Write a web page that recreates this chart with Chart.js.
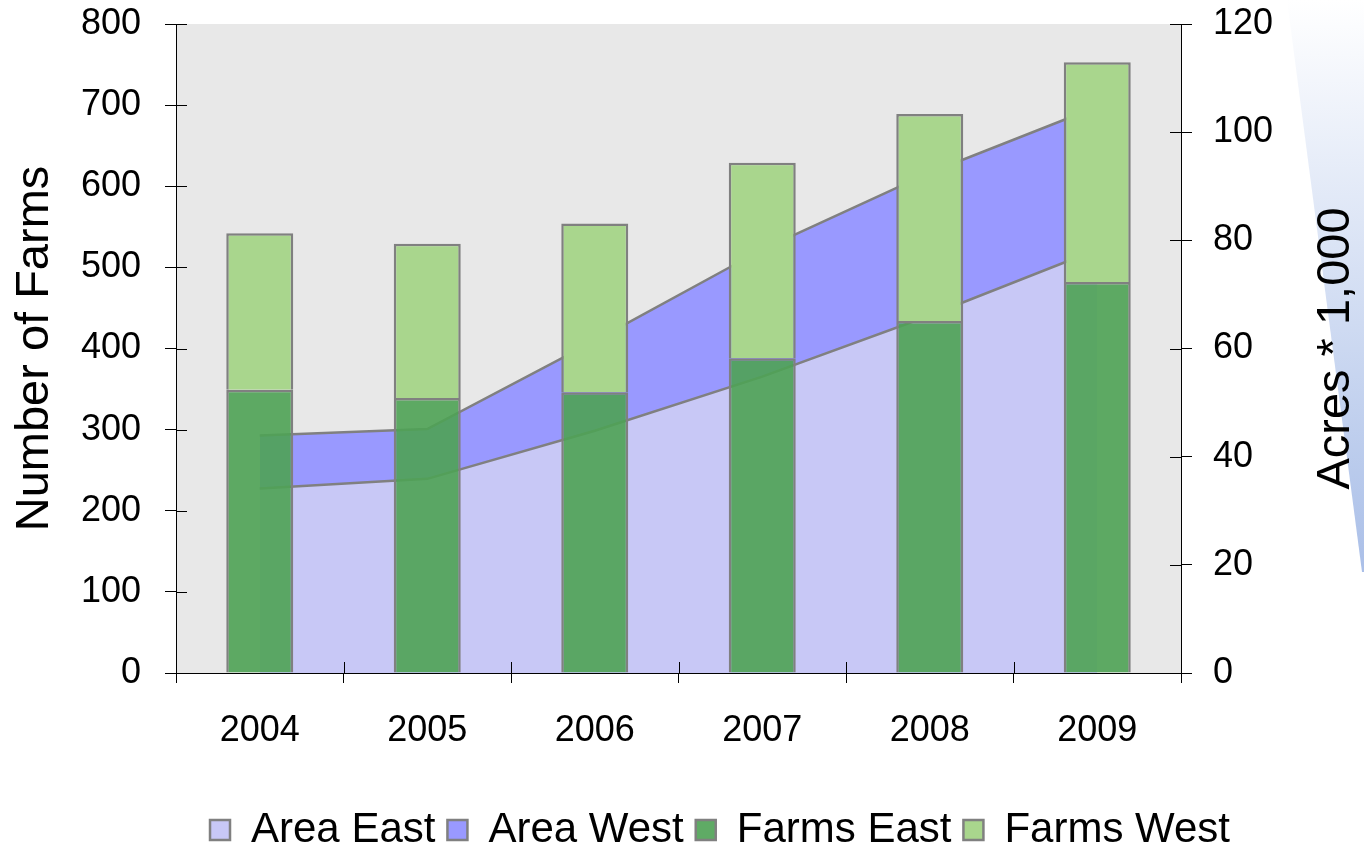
<!DOCTYPE html>
<html>
<head>
<meta charset="utf-8">
<script src="https://cdn.jsdelivr.net/npm/chart.js@4.4.1/dist/chart.umd.min.js"></script>
<style>
  html, body { margin: 0; padding: 0; background: #fff; }
  #wrap { width: 1364px; height: 851px; }
</style>
</head>
<body>
<div id="wrap"><canvas id="myChart" width="1364" height="851"></canvas></div>
<script>
// data
const years = ['2004', '2005', '2006', '2007', '2008', '2009'];
const areaEast = [34.1, 35.9, 44.8, 54.8, 66.1, 78.3];   // acres * 1,000
const areaWest = [9.8, 9.2, 16.6, 23.5, 26.4, 26.4];
const farmsEast = [349, 339, 346, 388, 434, 482];        // number of farms
const farmsWest = [193, 190, 208, 241, 255, 271];
const farmsMax = 800, farmsStep = 100;
const acresMax = 120, acresStep = 20;

const FONT = 'Liberation Sans, Arial, sans-serif';

// slide background, plot fill, inward ticks, axis titles
const decor = {
    id: 'decor',
    beforeDraw(chart) {
        const ctx = chart.ctx;
        const a = chart.chartArea;
        ctx.save();
        ctx.fillStyle = '#fff';
        ctx.fillRect(0, 0, chart.width, chart.height);
        // blue wedge on the right edge
        const g = ctx.createLinearGradient(0, 0, 0, 572);
        g.addColorStop(0, '#ffffff');
        g.addColorStop(1, '#aabfe8');
        ctx.fillStyle = g;
        ctx.beginPath();
        ctx.moveTo(1287, 0);
        ctx.lineTo(1364, 0);
        ctx.lineTo(1364, 572);
        ctx.lineTo(1362, 572);
        ctx.closePath();
        ctx.fill();
        // plot background
        ctx.fillStyle = '#e8e8e8';
        ctx.fillRect(a.left, a.top, a.right - a.left, a.bottom - a.top);
        ctx.restore();
    },
    afterDraw(chart) {
        const ctx = chart.ctx;
        const a = chart.chartArea;
        const y = chart.scales.y, y1 = chart.scales.y1, x = chart.scales.x;
        ctx.save();
        ctx.strokeStyle = '#000';
        ctx.lineWidth = 1;
        ctx.beginPath();
        y.ticks.forEach(t => {
            const p = Math.round(y.getPixelForValue(t.value)) + 0.5;
            ctx.moveTo(a.left, p); ctx.lineTo(a.left + 11, p);
        });
        y1.ticks.forEach(t => {
            const p = Math.round(y1.getPixelForValue(t.value)) + 0.5;
            ctx.moveTo(a.right, p); ctx.lineTo(a.right - 11, p);
        });
        for (let i = 0; i <= years.length; i++) {
            let p;
            if (i === 0) p = a.left;
            else if (i === years.length) p = a.right;
            else p = (x.getPixelForValue(i - 1) + x.getPixelForValue(i)) / 2;
            p = Math.round(p) + 0.5;
            ctx.moveTo(p, a.bottom); ctx.lineTo(p, a.bottom - 11);
        }
        ctx.stroke();

        // both axis titles read bottom to top
        const midY = (a.top + a.bottom) / 2;
        ctx.fillStyle = '#000';
        ctx.font = '47px ' + FONT;
        ctx.textAlign = 'center';
        ctx.textBaseline = 'middle';
        ctx.save();
        ctx.translate(35, midY);
        ctx.rotate(-Math.PI / 2);
        ctx.fillText('Number of Farms', 0, 0);
        ctx.restore();
        ctx.translate(1336, midY);
        ctx.rotate(-Math.PI / 2);
        ctx.fillText('Acres * 1,000', 0, 0);
        ctx.restore();
    }
};

// tick labels may hang over the plot edges, so drop the extra padding
const fixV = w => s => { s.width = w; s.paddingTop = 0; s.paddingBottom = 0; };

const ctx = document.getElementById('myChart');
const myChart = new Chart(ctx, {
    data: {
        labels: years,
        datasets: [
            {
                type: 'line',
                label: 'Area East',
                data: areaEast,
                yAxisID: 'y1',
                stack: 'area',
                fill: 'origin',
                backgroundColor: '#c8c8f6',
                borderColor: '#808080',
                borderWidth: 2.5,
                pointRadius: 0,
                tension: 0,
                order: 2
            },
            {
                type: 'line',
                label: 'Area West',
                data: areaWest,
                yAxisID: 'y1',
                stack: 'area',
                fill: '-1',
                backgroundColor: '#9999ff',
                borderColor: '#808080',
                borderWidth: 2.5,
                pointRadius: 0,
                tension: 0,
                order: 2
            },
            {
                type: 'bar',
                label: 'Farms East',
                data: farmsEast,
                yAxisID: 'y',
                stack: 'farms',
                backgroundColor: 'rgba(78,162,84,0.9)',
                borderColor: '#808080',
                borderWidth: 2.5,
                barPercentage: 0.4,
                categoryPercentage: 1,
                order: 1
            },
            {
                type: 'bar',
                label: 'Farms West',
                data: farmsWest,
                yAxisID: 'y',
                stack: 'farms',
                backgroundColor: '#a9d68d',
                borderColor: '#808080',
                borderWidth: 2.5,
                barPercentage: 0.4,
                categoryPercentage: 1,
                order: 1
            }
        ]
    },
    options: {
        responsive: false,
        animation: false,
        devicePixelRatio: 1,
        layout: { autoPadding: false, padding: { top: 24, left: 76, right: 0, bottom: -10 } },
        plugins: {
            tooltip: { enabled: false },
            legend: {
                position: 'bottom',
                labels: {
                    color: '#000',
                    font: { family: FONT, size: 42 },
                    boxWidth: 20,
                    boxHeight: 20,
                    padding: 12,
                    sort: (a, b) => a.datasetIndex - b.datasetIndex
                }
            }
        },
        scales: {
            x: {
                stacked: true,
                offset: true,
                grid: { display: true, drawOnChartArea: false, tickLength: 10, color: '#000', offset: true },
                border: { display: true, color: '#000', width: 1 },
                ticks: { color: '#000', font: { family: FONT, size: 36 }, padding: 26, maxRotation: 0 },
                afterFit: s => { s.height = 124; s.paddingLeft = 0; s.paddingRight = 0; }
            },
            y: {
                position: 'left',
                stacked: true,
                min: 0,
                max: farmsMax,
                ticks: { stepSize: farmsStep, color: '#000', font: { family: FONT, size: 36 }, padding: 24 },
                grid: { drawOnChartArea: false, tickLength: 11, color: '#000' },
                border: { display: true, color: '#000', width: 1 },
                afterFit: fixV(100)
            },
            y1: {
                position: 'right',
                stacked: true,
                min: 0,
                max: acresMax,
                ticks: { stepSize: acresStep, color: '#000', font: { family: FONT, size: 36 }, padding: 21 },
                grid: { drawOnChartArea: false, tickLength: 11, color: '#000' },
                border: { display: true, color: '#000', width: 1 },
                afterFit: fixV(183)
            }
        }
    },
    plugins: [decor]
});
</script>
</body>
</html>
